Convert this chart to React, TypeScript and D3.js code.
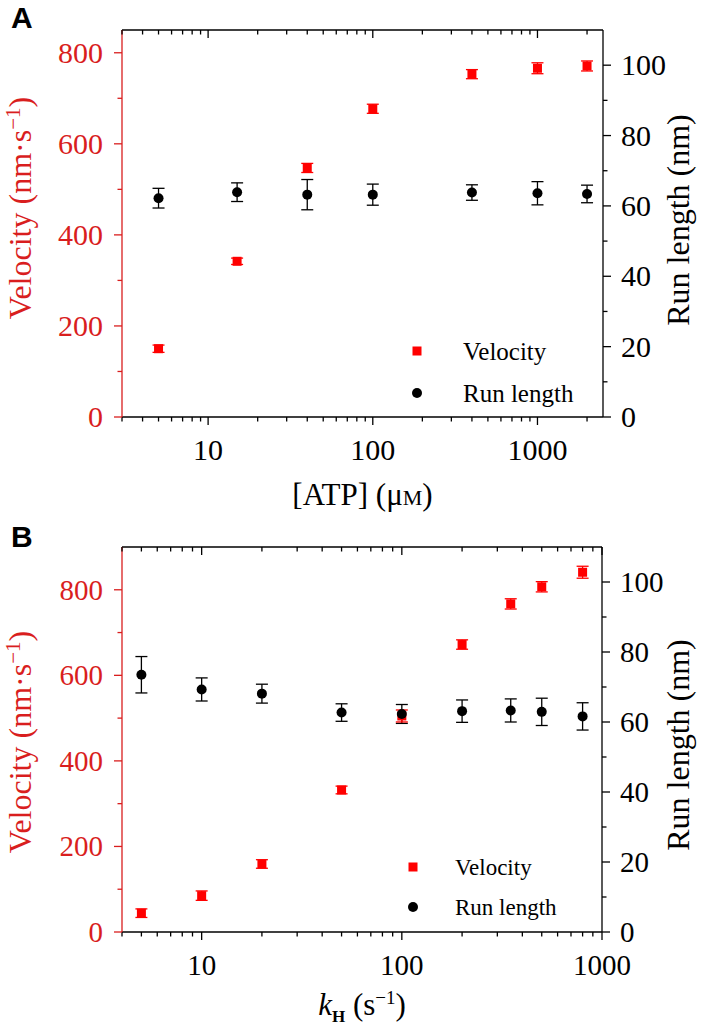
import React from "react";
import * as d3 from "d3";

// ---------- Data (panel A: ATP dependence) ----------
const atpConc = [5, 15, 40, 100, 400, 1000, 2000];
const atpVelocity = [150, 342, 547, 677, 753, 766, 771];
const atpVelocityErr = [8, 7, 10, 10, 10, 12, 11];
const atpRunLength = [62.2, 63.9, 63.2, 63.2, 63.8, 63.6, 63.4];
const atpRunLengthErr = [2.8, 2.65, 4.3, 3.0, 2.2, 3.3, 2.5];

// ---------- Data (panel B: kH dependence) ----------
const kH = [5, 10, 20, 50, 100, 200, 350, 500, 800];
const kVelocity = [44, 85, 159, 332, 505, 672, 767, 807, 841];
const kVelocityErr = [10, 11, 10, 9, 14, 11, 12, 12, 14];
const kRunLength = [73.5, 69.3, 68.1, 62.7, 62.3, 63.1, 63.3, 62.9, 61.6];
const kRunLengthErr = [5.2, 3.3, 2.7, 2.5, 2.7, 3.2, 3.3, 3.9, 3.9];

// ---------- Tick labels ----------
const velocityTicks = [0, 200, 400, 600, 800];
const velocityMinor = [100, 300, 500, 700];
const runTicks = [0, 20, 40, 60, 80, 100];
const runMinor = [10, 30, 50, 70, 90];
const atpXTicks = [10, 100, 1000];
const kXTicks = [10, 100, 1000];
const legendLabels = ["Velocity", "Run length"];

const RED_AXIS = "#d91e1e";
const RED_MARK = "#ff0000";
const SERIF = "Liberation Serif, Tinos, Times New Roman, Times, DejaVu Serif, serif";
const SANS = "Liberation Sans, Arimo, Arial, DejaVu Sans, sans-serif";

type PanelProps = {
  letter: string;
  letterY: number;
  box: { l: number; r: number; t: number; b: number };
  xDomain: [number, number];
  yLDomain: [number, number];
  yRDomain: [number, number];
  xs: number[];
  vel: number[];
  velErr: number[];
  run: number[];
  runErr: number[];
  xMajor: number[];
  tickFont: number;
  legend: { x: number; y1: number; y2: number; textX: number; font: number };
  xLabel: React.ReactNode;
  xLabelY: number;
  yLabelCenter: number;
  yRLabelCenter: number;
};

function Panel(p: PanelProps) {
  const { box } = p;
  const x = d3.scaleLog().domain(p.xDomain).range([box.l, box.r]);
  const yL = d3.scaleLinear().domain(p.yLDomain).range([box.b, box.t]);
  const yR = d3.scaleLinear().domain(p.yRDomain).range([box.b, box.t]);
  const allX = x.ticks().filter((v) => v >= p.xDomain[0] && v <= p.xDomain[1]);
  const majorSet = new Set(p.xMajor);
  const minorX = allX.filter((v) => !majorSet.has(v));
  const sq = 9;
  const cap = 6;
  const sw = 1.3;
  const serif = { fontFamily: SERIF };
  return (
    <g>
      <text
        x={11}
        y={p.letterY}
        style={{ fontFamily: SANS }}
        fontWeight="bold"
        fontSize={30}
        fill="#000"
      >
        {p.letter}
      </text>
      {/* frame: bottom, top, right black; left red */}
      <line x1={box.l} x2={box.r} y1={box.b} y2={box.b} stroke="#000" strokeWidth={sw} />
      <line x1={box.l} x2={box.r} y1={box.t} y2={box.t} stroke="#000" strokeWidth={sw} />
      <line x1={box.r} x2={box.r} y1={box.t} y2={box.b} stroke="#000" strokeWidth={sw} />
      <line x1={box.l} x2={box.l} y1={box.t} y2={box.b} stroke={RED_AXIS} strokeWidth={sw} />
      {/* x ticks bottom (outward) and top (inward) */}
      {p.xMajor.map((v) => (
        <g key={"xM" + v}>
          <line x1={x(v)} x2={x(v)} y1={box.b} y2={box.b + 8} stroke="#000" strokeWidth={sw} />
          <line x1={x(v)} x2={x(v)} y1={box.t} y2={box.t + 8} stroke="#000" strokeWidth={sw} />
          <text
            x={x(v)}
            y={box.b + 43}
            textAnchor="middle"
            style={serif}
            fontSize={p.tickFont}
            fill="#000"
          >
            {v}
          </text>
        </g>
      ))}
      {minorX.map((v) => (
        <g key={"xm" + v}>
          <line x1={x(v)} x2={x(v)} y1={box.b} y2={box.b + 4.5} stroke="#000" strokeWidth={sw} />
          <line x1={x(v)} x2={x(v)} y1={box.t} y2={box.t + 4.5} stroke="#000" strokeWidth={sw} />
        </g>
      ))}
      {/* left axis ticks (red) */}
      {velocityTicks.map((v) => (
        <g key={"yl" + v}>
          <line x1={box.l - 8} x2={box.l} y1={yL(v)} y2={yL(v)} stroke={RED_AXIS} strokeWidth={sw} />
          <text
            x={box.l - 19}
            y={yL(v)}
            dy="0.34em"
            textAnchor="end"
            style={serif}
            fontSize={p.tickFont}
            fill={RED_AXIS}
          >
            {v}
          </text>
        </g>
      ))}
      {velocityMinor.map((v) => (
        <line key={"ylm" + v} x1={box.l - 4.5} x2={box.l} y1={yL(v)} y2={yL(v)} stroke={RED_AXIS} strokeWidth={sw} />
      ))}
      {/* right axis ticks */}
      {runTicks.map((v) => (
        <g key={"yr" + v}>
          <line x1={box.r} x2={box.r + 8} y1={yR(v)} y2={yR(v)} stroke="#000" strokeWidth={sw} />
          <text
            x={box.r + 18}
            y={yR(v)}
            dy="0.34em"
            textAnchor="start"
            style={serif}
            fontSize={p.tickFont}
            fill="#000"
          >
            {v}
          </text>
        </g>
      ))}
      {runMinor.map((v) => (
        <line key={"yrm" + v} x1={box.r} x2={box.r + 4.5} y1={yR(v)} y2={yR(v)} stroke="#000" strokeWidth={sw} />
      ))}
      {/* axis titles */}
      <text
        transform={`translate(31, ${p.yLabelCenter}) rotate(-90)`}
        textAnchor="middle"
        style={serif}
        fontSize={32}
        fill={RED_AXIS}
      >
        Velocity (nm·s
        <tspan dy={-11} fontSize={21}>−1</tspan>
        <tspan dy={11}>)</tspan>
      </text>
      <text
        transform={`translate(689, ${p.yRLabelCenter}) rotate(-90)`}
        textAnchor="middle"
        style={serif}
        fontSize={32}
        fill="#000"
      >
        Run length (nm)
      </text>
      <text x={(box.l + box.r) / 2} y={p.xLabelY} textAnchor="middle" style={serif} fontSize={31} fill="#000">
        {p.xLabel}
      </text>
      {/* run length series */}
      {p.xs.map((xv, i) => {
        const cx = x(xv);
        const y0 = yR(p.run[i] - p.runErr[i]);
        const y1 = yR(p.run[i] + p.runErr[i]);
        return (
          <g key={"r" + i}>
            <line x1={cx} x2={cx} y1={y0} y2={y1} stroke="#000" strokeWidth={1.3} />
            <line x1={cx - cap} x2={cx + cap} y1={y0} y2={y0} stroke="#000" strokeWidth={1.3} />
            <line x1={cx - cap} x2={cx + cap} y1={y1} y2={y1} stroke="#000" strokeWidth={1.3} />
          </g>
        );
      })}
      {/* velocity series */}
      {p.xs.map((xv, i) => {
        const cx = x(xv);
        const y0 = yL(p.vel[i] - p.velErr[i]);
        const y1 = yL(p.vel[i] + p.velErr[i]);
        const cy = yL(p.vel[i]);
        return (
          <g key={"v" + i}>
            <line x1={cx} x2={cx} y1={y0} y2={y1} stroke={RED_MARK} strokeWidth={1.3} />
            <line x1={cx - cap} x2={cx + cap} y1={y0} y2={y0} stroke={RED_MARK} strokeWidth={1.3} />
            <line x1={cx - cap} x2={cx + cap} y1={y1} y2={y1} stroke={RED_MARK} strokeWidth={1.3} />
            <rect x={cx - sq / 2} y={cy - sq / 2} width={sq} height={sq} fill={RED_MARK} />
          </g>
        );
      })}
      {p.xs.map((xv, i) => (
        <circle key={"c" + i} cx={x(xv)} cy={yR(p.run[i])} r={5} fill="#000" />
      ))}
      {/* legend */}
      <rect x={p.legend.x - sq / 2} y={p.legend.y1 - sq / 2} width={sq} height={sq} fill={RED_MARK} />
      <text x={p.legend.textX} y={p.legend.y1} dy="0.34em" style={serif} fontSize={p.legend.font} fill="#000">
        {legendLabels[0]}
      </text>
      <circle cx={p.legend.x} cy={p.legend.y2} r={5} fill="#000" />
      <text x={p.legend.textX} y={p.legend.y2} dy="0.34em" style={serif} fontSize={p.legend.font} fill="#000">
        {legendLabels[1]}
      </text>
    </g>
  );
}

export default function App() {
  return (
    <svg
      width={709}
      height={1028}
      viewBox="0 0 709 1028"
      style={{ position: "absolute", left: 0, top: 0, background: "#fff" }}
    >
      <rect x={0} y={0} width={709} height={1028} fill="#fff" />
      <Panel
        letter="A"
        letterY={28}
        box={{ l: 122, r: 603, t: 30, b: 417 }}
        xDomain={[3, 2500]}
        yLDomain={[0, 850]}
        yRDomain={[0, 110]}
        xs={atpConc}
        vel={atpVelocity}
        velErr={atpVelocityErr}
        run={atpRunLength}
        runErr={atpRunLengthErr}
        xMajor={atpXTicks}
        tickFont={30}
        legend={{ x: 417, y1: 351, y2: 393, textX: 463, font: 25 }}
        xLabel={
          <>
            [ATP] (μ<tspan fontSize={22}>M</tspan>)
          </>
        }
        xLabelY={505}
        yLabelCenter={208}
        yRLabelCenter={220}
      />
      <Panel
        letter="B"
        letterY={547}
        box={{ l: 122, r: 602, t: 547, b: 932 }}
        xDomain={[4, 1000]}
        yLDomain={[0, 900]}
        yRDomain={[0, 110]}
        xs={kH}
        vel={kVelocity}
        velErr={kVelocityErr}
        run={kRunLength}
        runErr={kRunLengthErr}
        xMajor={kXTicks}
        tickFont={29}
        legend={{ x: 413, y1: 867, y2: 907, textX: 455, font: 23 }}
        xLabel={
          <>
            <tspan fontStyle="italic">k</tspan>
            <tspan dy={7} fontSize={17} fontWeight="bold">H</tspan>
            <tspan dy={-7}> (s</tspan>
            <tspan dy={-11} fontSize={19}>−1</tspan>
            <tspan dy={11}>)</tspan>
          </>
        }
        xLabelY={1015}
        yLabelCenter={742}
        yRLabelCenter={745}
      />
    </svg>
  );
}
